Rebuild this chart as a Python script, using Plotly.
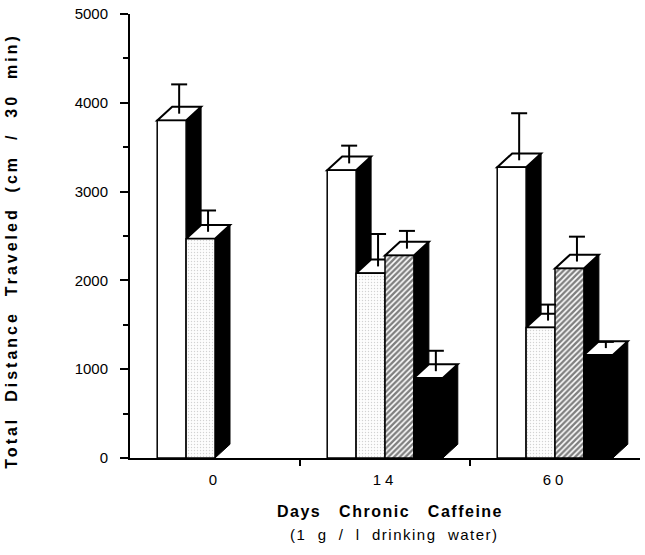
import plotly.graph_objects as go

# ---- data ----
days = ["0", "14", "60"]
white_means = [3800, 3240, 3275]
white_sem = [330, 200, 530]
stipple_means = [2470, 2080, 1470]
stipple_sem = [240, 365, 180]
hatch_means = [None, 2280, 2135]
hatch_sem = [None, 200, 280]
black_means = [None, 900, 1160]
black_sem = [None, 230, 70]
y_ticks = [0, 1000, 2000, 3000, 4000, 5000]
y_minor = [500, 1500, 2500, 3500, 4500]

# ---- layout constants ----
W, H = 645, 555
ML, MR, MT, MB = 130, 5, 6, 97
PW, PH = W - ML - MR, H - MT - MB
XR = [-0.5, 2.5]
YR = [0, 5000]
UX = (XR[1] - XR[0]) / PW   # data units per px (x)
UY = (YR[1] - YR[0]) / PH   # data units per px (y)
BAR_W = 0.17
DX, DY = 15 * UX, 14 * UY   # 3-D depth offsets
CAP = 8 * UX
FONT = "Liberation Sans, Arial, sans-serif"
NB = "\u00a0"


def spaced(txt, ls, gap=2):
    words = txt.split(" ")
    return f'<span style="letter-spacing:{ls}px">' + (NB * gap).join(words) + "</span>"


series = [
    dict(means=white_means, sem=white_sem,
         marker=dict(color="white", line=dict(color="black", width=1.5))),
    dict(means=stipple_means, sem=stipple_sem,
         marker=dict(color="white", line=dict(color="black", width=1.5),
                     pattern=dict(shape=".", fgcolor="#a8a8a8", bgcolor="#fdfdfd",
                                  size=3, solidity=0.16))),
    dict(means=hatch_means, sem=hatch_sem,
         marker=dict(color="white", line=dict(color="black", width=1.5),
                     pattern=dict(shape="/", fgcolor="black", bgcolor="white",
                                  size=4, solidity=0.6))),
    dict(means=black_means, sem=black_sem,
         marker=dict(color="black", line=dict(color="black", width=1.5))),
]

xs = list(range(len(days)))
fig = go.Figure()
shapes = []
err_shapes = []
for i, s in enumerate(series):
    off = (i - 2) * BAR_W
    fig.add_trace(go.Bar(x=xs, y=s["means"], width=BAR_W, offset=off,
                         marker=s["marker"], showlegend=False, hoverinfo="y"))

for j in xs:
    for i, s in enumerate(series):
        v = s["means"][j]
        if v is None:
            continue
        x0 = j + (i - 2) * BAR_W
        x1 = x0 + BAR_W
        side = f"M {x1},0 L {x1+DX},{DY} L {x1+DX},{v+DY} L {x1},{v} Z"
        top = f"M {x0},{v} L {x0+DX},{v+DY} L {x1+DX},{v+DY} L {x1},{v} Z"
        shapes.append(dict(type="path", path=side, xref="x", yref="y", layer="below",
                           fillcolor="black", line=dict(color="black", width=1)))
        shapes.append(dict(type="path", path=top, xref="x", yref="y", layer="below",
                           fillcolor="white", line=dict(color="black", width=2)))
        e = s["sem"][j]
        xe = (x0 + x1) / 2 + DX / 2
        yb = v + DY / 2
        err_shapes.append(dict(type="line", xref="x", yref="y", x0=xe, x1=xe,
                               y0=yb, y1=yb + e, layer="above",
                               line=dict(color="black", width=2)))
        err_shapes.append(dict(type="line", xref="x", yref="y", x0=xe - CAP, x1=xe + CAP,
                               y0=yb + e, y1=yb + e, layer="above",
                               line=dict(color="black", width=2)))

fig.update_layout(
    width=W, height=H,
    margin=dict(l=ML, r=MR, t=MT, b=MB),
    paper_bgcolor="white", plot_bgcolor="white",
    barmode="overlay",
    font=dict(family=FONT, size=15, color="black"),
    shapes=shapes + err_shapes,
    xaxis=dict(range=XR, tickvals=xs, ticktext=[spaced(d, 4) for d in days],
               ticks="", showgrid=False,
               zeroline=False, showline=True, linecolor="black", linewidth=2,
               tickfont=dict(size=15), ticklabelstandoff=7,
               minor=dict(tickvals=[0.5, 1.5], ticks="outside", ticklen=6,
                          tickwidth=2, tickcolor="black")),
    yaxis=dict(range=YR, tickmode="array", tickvals=y_ticks,
               ticktext=[str(t) for t in y_ticks], ticklabeloverflow="allow",
               ticks="outside", ticklen=8, tickwidth=2,
               tickcolor="black", showgrid=False, zeroline=False, showline=True,
               linecolor="black", linewidth=2, tickfont=dict(size=15),
               ticklabelstandoff=9,
               minor=dict(tickvals=y_minor, ticks="outside", ticklen=5, tickwidth=2,
                          tickcolor="black")),
    annotations=[
        dict(text="<b>" + spaced("Total Distance Traveled (cm / 30 min)", 3, 2) + "</b>",
             xref="paper", yref="paper", x=(12 - ML) / PW, y=(H - MB - 248) / PH,
             textangle=-90, showarrow=False, font=dict(size=16),
             xanchor="center", yanchor="middle"),
        dict(text="<b>" + spaced("Days Chronic Caffeine", 1.5, 3) + "</b>",
             xref="paper", yref="paper", x=(390 - ML) / PW, y=(H - MB - 512) / PH,
             showarrow=False, font=dict(size=16), xanchor="center", yanchor="middle"),
        dict(text=spaced("(1 g / l drinking water)", 1.5, 2),
             xref="paper", yref="paper", x=(394 - ML) / PW, y=(H - MB - 536) / PH,
             showarrow=False, font=dict(size=15), xanchor="center", yanchor="middle"),
    ],
)

fig.write_html("out.html", config={"displayModeBar": False},
               post_script="document.body.style.margin='0px';")
